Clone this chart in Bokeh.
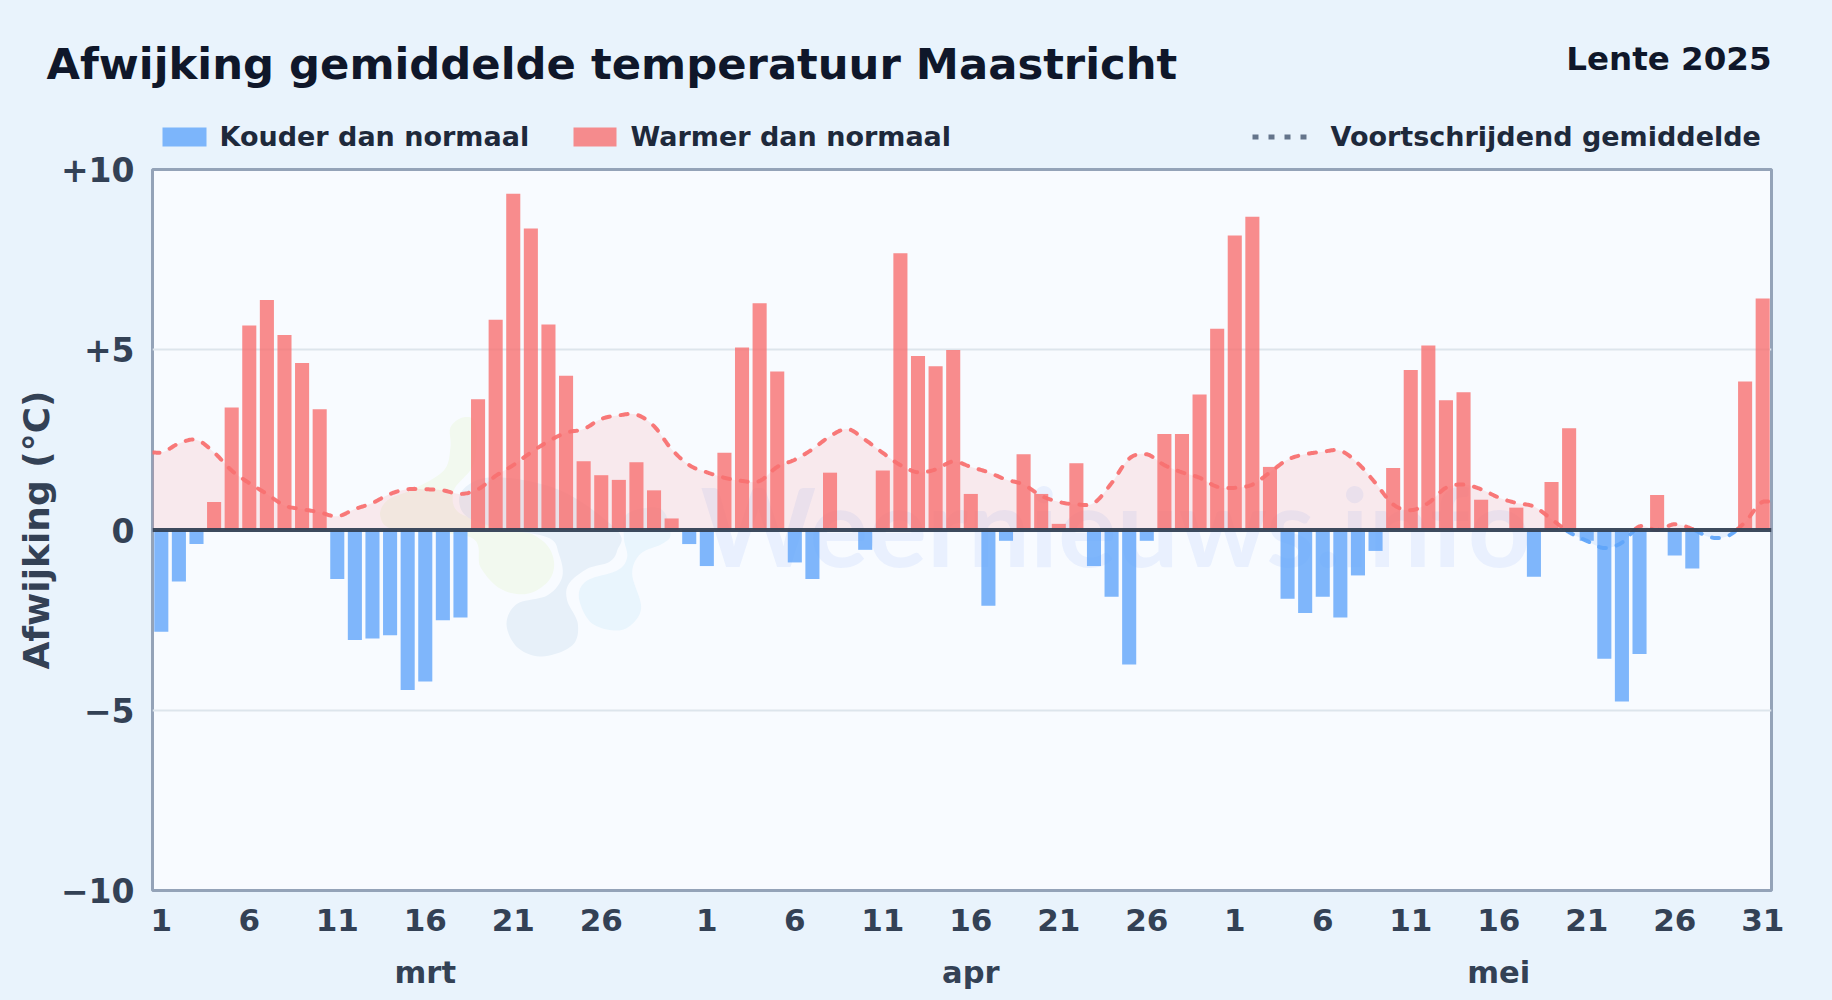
import numpy as np
from bokeh.plotting import figure
from bokeh.layouts import column
from bokeh.embed import file_html
from bokeh.resources import INLINE
from bokeh.models import (Range1d, FixedTicker, LinearAxis, Span, GlobalInlineStyleSheet)
from bokeh.core.properties import value

# ---------------- data ----------------
mrt = [-2.82,-1.43,-0.39,0.78,3.4,5.67,6.38,5.41,4.63,3.35,-1.36,-3.05,-3.01,-2.92,-4.44,-4.2,
       -2.5,-2.43,3.63,5.83,9.33,8.36,5.7,4.28,1.91,1.52,1.39,1.88,1.1,0.32,-0.39]
apr = [-1.0,2.14,5.06,6.29,4.4,-0.9,-1.36,1.59,0.0,-0.55,1.65,7.68,4.83,4.54,4.99,1.0,
       -2.1,-0.3,2.1,1.0,0.17,1.85,-1.0,-1.85,-3.73,-0.3,2.66,2.66,3.76,5.58]
mei = [8.17,8.69,1.75,-1.91,-2.3,-1.85,-2.43,-1.26,-0.58,1.72,4.44,5.12,3.6,3.82,0.84,0.0,
       0.62,-1.3,1.33,2.82,-0.3,-3.57,-4.76,-3.44,0.97,-0.71,-1.07,0.0,0.0,4.12,6.42]
rolling = [2.15,2.4,2.5,2.15,1.65,1.3,1.0,0.68,0.58,0.49,0.38,0.58,0.75,1.0,1.13,1.13,1.1,1.0,1.13,
           1.5,1.8,2.15,2.46,2.7,2.8,3.08,3.18,3.2,2.88,2.24,1.8,
           1.6,1.45,1.36,1.36,1.75,1.95,2.24,2.6,2.8,2.5,2.14,1.8,1.6,1.68,1.9,1.75,1.6,1.4,1.26,
           0.95,0.78,0.71,0.75,1.3,1.98,2.1,1.8,1.6,1.45,1.2,
           1.17,1.26,1.6,1.95,2.1,2.17,2.2,1.85,1.3,0.71,0.55,0.75,1.17,1.26,1.13,0.9,0.75,0.65,
           0.3,-0.06,-0.3,-0.5,-0.35,0.1,0.0,0.16,0.03,-0.2,-0.17,0.22,0.78]
day_ticks = [1,6,11,16,21,26]
months = ["mrt","apr","mei"]
y_ticks = [-10,-5,0,5,10]
y_labels = ["\u221210","\u22125","0","+5","+10"]
title = "Afwijking gemiddelde temperatuur Maastricht"
subtitle = "Lente 2025"
legend_cold = "Kouder dan normaal"
legend_warm = "Warmer dan normaal"
legend_avg = "Voortschrijdend gemiddelde"
y_title = "Afwijking (\u00b0C)"
watermark = "Weernieuws.info"

FONT = "DejaVu Sans"
BG = "#e9f3fc"
PLOT_BG = "#f8fbff"
RED = "#f87171"
BLUE = "#60a5fa"
INK = "#0f172a"
SLATE = "#334155"

values = np.array(mrt + apr + mei, dtype=float)
n = len(values)
xc = np.arange(n) + 0.5

W, H = 1832, 1000
HEAD = 155                       # height of the header strip
OVERLAP = 14                     # main canvas starts this far above the end of the header
L, R, T, B = 152, 1771, 169, 890
ZERO = (T + B) / 2
SCALE = (B - T) / 20

# ---------------- header: title + legend ----------------
head = figure(width=W, height=HEAD, output_backend="svg", toolbar_location=None,
              x_range=Range1d(0, W), y_range=Range1d(HEAD, 0), frame_align=False,
              min_border_left=0, min_border_right=0, min_border_top=0, min_border_bottom=0,
              background_fill_color=BG, border_fill_color=BG, outline_line_color=None)
head.axis.visible = False
head.grid.visible = False

BASE_LIFT = 0.36   # the text glyph draws its baseline this fraction of the size below y

def txt(x, y, t, size, color=INK, align="left"):
    head.text([x], [y - BASE_LIFT * size], text=[t], text_font=value(FONT), text_font_style="bold",
              text_font_size=f"{size}px", text_color=color, text_align=align, text_baseline="alphabetic")

txt(46, 79, title, 43.3)
txt(1771, 70, subtitle, 32.5, align="right")
head.quad(left=[162], right=[206], top=[127], bottom=[146], fill_color=BLUE, fill_alpha=0.8, line_color=None)
head.quad(left=[573], right=[616], top=[127], bottom=[146], fill_color=RED, fill_alpha=0.8, line_color=None)
txt(219, 146, legend_cold, 27, "#1e293b")
txt(630, 146, legend_warm, 27, "#1e293b")
txt(1330, 146, legend_avg, 27, "#1e293b")
head.line([1252, 1306], [136.5, 136.5], line_color="#64748b", line_width=5, line_dash="6 10")

# ---------------- main chart ----------------
p = figure(width=W, height=H - HEAD + OVERLAP, output_backend="svg", toolbar_location=None,
           x_range=Range1d(0, n), y_range=Range1d(-10, 10), frame_align=False,
           min_border_left=L, min_border_right=W - R, min_border_top=T - HEAD + OVERLAP, min_border_bottom=H - B,
           background_fill_color=PLOT_BG, border_fill_color=None,
           outline_line_color="#94a3b8", outline_line_width=3,
           margin=(-OVERLAP, 0, 0, 0))

tick_pos, tick_lab = [], {}
offset = 0
for length in (len(mrt), len(apr), len(mei)):
    for d in day_ticks:
        tick_pos.append(offset + d - 0.5)
        tick_lab[offset + d - 0.5] = str(d)
    offset += length
tick_pos.append(n - 0.5)
tick_lab[n - 0.5] = str(len(mei))

xa = p.xaxis[0]
xa.ticker = FixedTicker(ticks=tick_pos)
xa.major_label_overrides = tick_lab
xa.axis_line_color = None
xa.major_tick_line_color = None
xa.minor_tick_line_color = None
xa.major_label_text_font = FONT
xa.major_label_text_font_style = "bold"
xa.major_label_text_font_size = "31px"
xa.major_label_text_color = SLATE
xa.major_label_standoff = 12

m_pos = [15.5, 46.5, 76.5]
xa2 = LinearAxis(ticker=FixedTicker(ticks=m_pos),
                 major_label_overrides={m_pos[i]: months[i] for i in range(3)},
                 axis_line_color=None, major_tick_line_color=None, minor_tick_line_color=None,
                 major_label_text_font=FONT, major_label_text_font_style="bold",
                 major_label_text_font_size="30.5px", major_label_text_color=SLATE,
                 major_label_standoff=15)
p.add_layout(xa2, "below")

ya = p.yaxis[0]
ya.ticker = FixedTicker(ticks=y_ticks)
ya.major_label_overrides = dict(zip(y_ticks, y_labels))
ya.axis_line_color = None
ya.major_tick_line_color = None
ya.minor_tick_line_color = None
ya.major_label_text_font = FONT
ya.major_label_text_font_style = "bold"
ya.major_label_text_font_size = "33px"
ya.major_label_text_color = SLATE
ya.major_label_standoff = 12
ya.axis_label = y_title
ya.axis_label_text_font = FONT
ya.axis_label_text_font_style = "bold"
ya.axis_label_text_font_size = "36px"
ya.axis_label_text_color = SLATE
ya.axis_label_standoff = 1

p.xgrid.visible = False
p.ygrid.ticker = FixedTicker(ticks=[-5, 5])
p.ygrid.grid_line_color = "#dde5ec"
p.ygrid.grid_line_width = 2

# ---------------- watermark ----------------
def to_x(px): return (np.asarray(px, float) - L) / (R - L) * n
def to_y(py): return (ZERO - np.asarray(py, float)) / SCALE

def smooth_closed(pts, k=10):
    pts = np.asarray(pts, float)
    m = len(pts)
    out = []
    for i in range(m):
        p0, p1, p2, p3 = pts[i - 1], pts[i], pts[(i + 1) % m], pts[(i + 2) % m]
        for t in np.linspace(0, 1, k, endpoint=False):
            out.append(0.5 * (2 * p1 + (p2 - p0) * t + (2 * p0 - 5 * p1 + 4 * p2 - p3) * t * t
                              + (3 * p1 - p0 - 3 * p2 + p3) * t ** 3))
    return np.array(out)

blob_green = [(310,110),(270,140),(270,200),(250,270),(160,325),(80,360),(60,410),(110,450),(330,470),
              (360,560),(420,625),(500,640),(565,600),(580,540),(545,480),(440,430),(300,400),(280,330),(340,250),(345,130)]
blob_blue = [(545,828),(470,800),(438,730),(470,670),(560,645),(605,590),(595,520),(560,470),(400,440),(310,400),
             (305,330),(400,290),(600,330),(770,450),(770,510),(745,545),(680,565),(625,610),(620,660),(652,730),(635,795)]
blob_sky = [(760,750),(690,725),(655,650),(680,600),(770,570),(800,530),(790,470),(800,400),(900,385),(930,460),
            (905,490),(840,520),(815,580),(842,680),(810,735)]
for pts, col in ((blob_green, "#f2f9ef"), (blob_blue, "#e7f0f9"), (blob_sky, "#e9f5fd")):
    s = smooth_closed(pts)
    p.patch(to_x(360 + s[:, 0] / 3), to_y(380 + s[:, 1] / 3), fill_color=col, line_color=None, level="underlay")

p.text([to_x(700)], [to_y(565 - 42)], text=[watermark], text_font=value("Lato"), text_font_style="bold",
       text_font_size="110px", text_color="#2563eb", text_alpha=0.07,
       text_baseline="alphabetic", level="underlay")

# ---------------- rolling average: fill ----------------
def hermite(x, y, k=16):
    x = np.asarray(x, float); y = np.asarray(y, float)
    d = np.gradient(y, x)
    xs, ys = [], []
    for i in range(len(x) - 1):
        h = x[i + 1] - x[i]
        for t in np.linspace(0, 1, k, endpoint=False):
            a = 2*t**3 - 3*t**2 + 1; b = t**3 - 2*t**2 + t
            c = -2*t**3 + 3*t**2; e = t**3 - t**2
            xs.append(x[i] + t * h)
            ys.append(a * y[i] + b * h * d[i] + c * y[i + 1] + e * h * d[i + 1])
    xs.append(x[-1]); ys.append(y[-1])
    return np.array(xs), np.array(ys)

edge_x = np.concatenate(([0], xc, [n]))
edge_y = np.array([rolling[0]] + rolling + [rolling[-1]])
dx, dy = hermite(edge_x, edge_y)
pos = np.maximum(dy, 0)
neg = np.minimum(dy, 0)
p.varea(dx, 0, pos, fill_color=RED, fill_alpha=0.13)
p.varea(dx, 0, neg, fill_color=BLUE, fill_alpha=0.13)

# ---------------- bars ----------------
is_warm = values >= 0
p.vbar(xc[is_warm], 0.8, 0, values[is_warm], fill_color=RED, fill_alpha=0.8, line_color=None)
p.vbar(xc[~is_warm], 0.8, values[~is_warm], 0, fill_color=BLUE, fill_alpha=0.8, line_color=None)

# ---------------- rolling average: line ----------------
line_pos = np.where(dy >= 0, dy, np.nan)
line_neg = np.where(dy <= 0, dy, np.nan)
p.line(dx, line_pos, line_color=RED, line_width=4, line_dash="7 11", line_cap="round", line_alpha=0.95)
p.line(dx, line_neg, line_color=BLUE, line_width=4, line_dash="7 11", line_cap="round", line_alpha=0.95)

p.add_layout(Span(location=0, dimension="width", line_color=SLATE, line_width=4, line_alpha=0.95))

page = column(head, p, spacing=0)
page.stylesheets = [GlobalInlineStyleSheet(css=f"html,body{{margin:0;padding:0;background:{BG};overflow:hidden}}")]
open("out.html", "w").write(file_html(page, INLINE))
